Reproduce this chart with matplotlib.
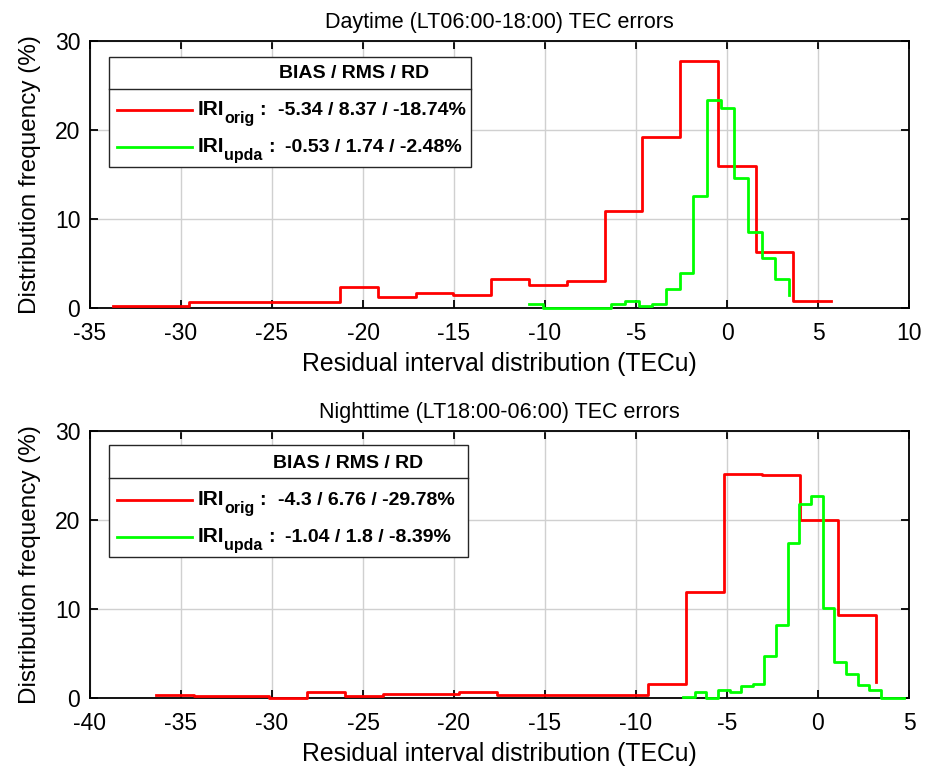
import numpy as np
import matplotlib
matplotlib.use('Agg')
import matplotlib.pyplot as plt
from matplotlib.patches import Rectangle
from matplotlib.lines import Line2D

plt.rcParams['font.family'] = ['Liberation Sans', 'DejaVu Sans']
plt.rcParams['axes.unicode_minus'] = False

# Daytime histogram (stairs, left edges)
day_orig_x = [-33.72, -31.64, -29.57, -27.49, -25.42, -23.34, -21.26, -19.19, -17.11, -15.04,
              -12.96, -10.88, -8.81, -6.73, -4.66, -2.58, -0.50, 1.57, 3.65, 5.72]
day_orig_y = [0.19, 0.19, 0.64, 0.64, 0.64, 0.64, 2.33, 1.20, 1.65, 1.39,
              3.22, 2.55, 3.03, 10.87, 19.20, 27.75, 15.96, 6.26, 0.75, 0.75]
day_upda_x = [-10.86, -10.11, -9.36, -8.61, -7.86, -7.10, -6.35, -5.60, -4.85, -4.10,
              -3.35, -2.60, -1.85, -1.10, -0.35, 0.41, 1.16, 1.91, 2.66, 3.41]
day_upda_y = [0.42, 0.0, 0.0, 0.0, 0.0, 0.0, 0.42, 0.72, 0.22, 0.42,
              2.10, 3.90, 12.55, 23.37, 22.44, 14.60, 8.54, 5.55, 3.22, 1.39]

# Nighttime histogram
night_orig_x = [-36.39, -34.31, -32.23, -30.14, -28.06, -25.98, -23.90, -21.82, -19.73, -17.65,
                -15.57, -13.49, -11.41, -9.32, -7.24, -5.16, -3.08, -1.00, 1.09, 3.17]
night_orig_y = [0.40, 0.22, 0.22, 0.0, 0.70, 0.22, 0.45, 0.45, 0.70, 0.42,
                0.42, 0.42, 0.42, 1.57, 11.98, 25.20, 25.04, 20.00, 9.33, 1.79]
night_upda_x = [-7.42, -6.78, -6.14, -5.50, -4.86, -4.22, -3.58, -2.94, -2.30, -1.66,
                -1.02, -0.38, 0.26, 0.90, 1.54, 2.18, 2.82, 3.46, 4.10, 4.74]
night_upda_y = [0.18, 0.67, 0.0, 0.93, 0.70, 1.34, 1.57, 4.74, 8.20, 17.47,
                21.76, 22.69, 10.19, 4.10, 2.69, 1.49, 0.96, 0.0, 0.0, 0.0]

titles = ['Daytime (LT06:00-18:00) TEC errors', 'Nighttime (LT18:00-06:00) TEC errors']
stats_orig = ['-5.34 / 8.37 / -18.74%', '-4.3 / 6.76 / -29.78%']
stats_upda = ['-0.53 / 1.74 / -2.48%', '-1.04 / 1.8 / -8.39%']
xlims = [(-35, 10), (-40, 5)]
xticks = [np.arange(-35, 11, 5), np.arange(-40, 6, 5)]

W, H = 935, 766
fig = plt.figure(figsize=(W / 100, H / 100), dpi=100)

# axes boxes in pixels: left, right, top, bottom
boxes = [(90, 909, 41, 307.7), (90, 909, 431, 698.3)]
# legend boxes in pixels: left, right, top, sep, bottom, line1_y, line2_y, header_x, header_y
legs = [(109, 471, 57, 89, 167, 110, 147, 354, 74),
        (109, 468, 445, 477.7, 556.7, 500, 537, 348, 463)]

data = [(day_orig_x, day_orig_y, day_upda_x, day_upda_y),
        (night_orig_x, night_orig_y, night_upda_x, night_upda_y)]

red = '#ff0000'
green = '#00ff00'

for i in range(2):
    l, r, t, b = boxes[i]
    ax = fig.add_axes([l / W, (H - b) / H, (r - l) / W, (b - t) / H])
    ox, oy, ux, uy = data[i]
    ax.step(ox, oy, where='post', color=red, lw=2, zorder=3, clip_on=False)
    ax.step(ux, uy, where='post', color=green, lw=2, zorder=3, clip_on=False)
    ax.set_xlim(*xlims[i])
    ax.set_ylim(0, 30)
    ax.set_xticks(xticks[i])
    ax.set_yticks([0, 10, 20, 30])
    ax.grid(True, color='#d0d0d0', lw=1)
    ax.set_axisbelow(True)
    ax.tick_params(direction='in', length=6, width=1.3, top=True, right=True,
                   labelsize=16.5)
    ax.tick_params(axis='x', pad=10)
    ax.tick_params(axis='y', pad=7)
    for s in ax.spines.values():
        s.set_linewidth(1.3)
        s.set_zorder(2.5)
    ax.set_title(titles[i], fontsize=15.5, pad=9.5)
    ax.set_xlabel('Residual interval distribution (TECu)', fontsize=17.8, labelpad=5)
    ax.set_ylabel('Distribution frequency (%)', fontsize=17.5, labelpad=10)

    # custom legend box
    ll, lr, lt, ls, lb, y1, y2, hx, hy = legs[i]
    def fx(px):
        return (px - l) / (r - l)
    def fy(py):
        return (b - py) / (b - t)
    ax.add_patch(Rectangle((fx(ll), fy(lb)), fx(lr) - fx(ll), fy(lt) - fy(lb),
                           transform=ax.transAxes, facecolor='white', edgecolor='#262626',
                           lw=1.0, zorder=5))
    ax.add_line(Line2D([fx(ll), fx(lr)], [fy(ls), fy(ls)], transform=ax.transAxes,
                       color='#262626', lw=1.0, zorder=6))
    ax.text(fx(hx), fy(hy), 'BIAS / RMS / RD', transform=ax.transAxes, ha='center',
            va='center', fontsize=14, fontweight='bold', zorder=7)
    # rows: line y, colour, subscript, stats, subscript x, colon x, stats x
    rows = [(y1, red, 'orig', stats_orig[i], 224, 259, 278),
            (y2, green, 'upda', stats_upda[i], 224, 268, 285)]
    for yy, col, sub, st, sx, cx, tx in rows:
        ax.add_line(Line2D([fx(117), fx(192)], [fy(yy), fy(yy)], transform=ax.transAxes,
                           color=col, lw=2, zorder=6))
        base = yy + 5
        kw = dict(transform=ax.transAxes, ha='left', va='baseline', fontweight='bold', zorder=7)
        ax.text(fx(198), fy(base), 'IRI', fontsize=15, **kw)
        ax.text(fx(sx), fy(base + 8), sub, fontsize=11.5, **kw)
        ax.text(fx(cx), fy(base), ':', fontsize=14, **kw)
        ax.text(fx(tx), fy(base), st, fontsize=14, **kw)

fig.savefig('out.png', dpi=100)
